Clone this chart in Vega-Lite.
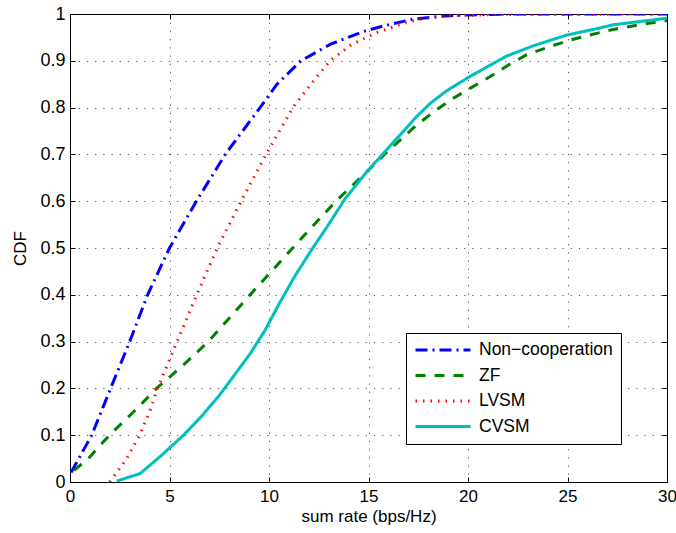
{
  "$schema": "https://vega.github.io/schema/vega-lite/v6.json",
  "width": 597,
  "height": 468,
  "autosize": "none",
  "padding": {"left": 70, "top": 14, "right": 9, "bottom": 51},
  "background": "white",
  "config": {
    "view": {"stroke": "black", "strokeWidth": 1},
    "font": "Liberation Sans",
    "axis": {
      "domain": true,
      "domainColor": "black",
      "grid": true,
      "gridColor": "#444",
      "gridDash": [1.2, 7],
      "gridWidth": 1,
      "gridOpacity": 0.9,
      "tickColor": "black",
      "tickSize": -5,
      "labelFontSize": 18,
      "labelColor": "black",
      "labelFont": "Liberation Sans",
      "titleFont": "Liberation Sans",
      "titleFontSize": 17,
      "titleFontWeight": "normal",
      "titleColor": "black"
    }
  },
  "datasets": {
    "d": [
      {"s": "Non−cooperation", "x": 0.05, "y": 0.02},
      {"s": "Non−cooperation", "x": 1.09, "y": 0.1},
      {"s": "Non−cooperation", "x": 2.04, "y": 0.2},
      {"s": "Non−cooperation", "x": 3.0, "y": 0.3},
      {"s": "Non−cooperation", "x": 3.9, "y": 0.4},
      {"s": "Non−cooperation", "x": 5.0, "y": 0.5},
      {"s": "Non−cooperation", "x": 6.35, "y": 0.6},
      {"s": "Non−cooperation", "x": 7.8, "y": 0.7},
      {"s": "Non−cooperation", "x": 9.55, "y": 0.8},
      {"s": "Non−cooperation", "x": 10.4, "y": 0.85},
      {"s": "Non−cooperation", "x": 11.6, "y": 0.9},
      {"s": "Non−cooperation", "x": 13.07, "y": 0.935},
      {"s": "Non−cooperation", "x": 14.7, "y": 0.962},
      {"s": "Non−cooperation", "x": 15.7, "y": 0.974},
      {"s": "Non−cooperation", "x": 17.25, "y": 0.989},
      {"s": "Non−cooperation", "x": 18.6, "y": 0.995},
      {"s": "Non−cooperation", "x": 19.9, "y": 0.998},
      {"s": "Non−cooperation", "x": 22, "y": 1},
      {"s": "Non−cooperation", "x": 30, "y": 1},
      {"s": "ZF", "x": 0.2, "y": 0.025},
      {"s": "ZF", "x": 0.92, "y": 0.05},
      {"s": "ZF", "x": 1.98, "y": 0.1},
      {"s": "ZF", "x": 3.2, "y": 0.15},
      {"s": "ZF", "x": 4.35, "y": 0.2},
      {"s": "ZF", "x": 5.7, "y": 0.25},
      {"s": "ZF", "x": 6.95, "y": 0.3},
      {"s": "ZF", "x": 9.05, "y": 0.4},
      {"s": "ZF", "x": 10.55, "y": 0.47},
      {"s": "ZF", "x": 11.98, "y": 0.537},
      {"s": "ZF", "x": 13.48, "y": 0.605},
      {"s": "ZF", "x": 14.9, "y": 0.662},
      {"s": "ZF", "x": 15.8, "y": 0.7},
      {"s": "ZF", "x": 17.42, "y": 0.763},
      {"s": "ZF", "x": 18.34, "y": 0.793},
      {"s": "ZF", "x": 19.26, "y": 0.82},
      {"s": "ZF", "x": 20.1, "y": 0.841},
      {"s": "ZF", "x": 21.1, "y": 0.866},
      {"s": "ZF", "x": 22.03, "y": 0.891},
      {"s": "ZF", "x": 22.95, "y": 0.913},
      {"s": "ZF", "x": 23.95, "y": 0.928},
      {"s": "ZF", "x": 25.1, "y": 0.944},
      {"s": "ZF", "x": 26.1, "y": 0.955},
      {"s": "ZF", "x": 27.3, "y": 0.967},
      {"s": "ZF", "x": 28.6, "y": 0.977},
      {"s": "ZF", "x": 30, "y": 0.986},
      {"s": "LVSM", "x": 2.0, "y": 0},
      {"s": "LVSM", "x": 2.85, "y": 0.05},
      {"s": "LVSM", "x": 3.5, "y": 0.1},
      {"s": "LVSM", "x": 4.0, "y": 0.15},
      {"s": "LVSM", "x": 4.4, "y": 0.2},
      {"s": "LVSM", "x": 5.38, "y": 0.3},
      {"s": "LVSM", "x": 6.37, "y": 0.4},
      {"s": "LVSM", "x": 7.4, "y": 0.5},
      {"s": "LVSM", "x": 8.6, "y": 0.6},
      {"s": "LVSM", "x": 9.85, "y": 0.7},
      {"s": "LVSM", "x": 11.2, "y": 0.8},
      {"s": "LVSM", "x": 12.1, "y": 0.85},
      {"s": "LVSM", "x": 13.07, "y": 0.9},
      {"s": "LVSM", "x": 14.15, "y": 0.935},
      {"s": "LVSM", "x": 15.4, "y": 0.96},
      {"s": "LVSM", "x": 16.7, "y": 0.979},
      {"s": "LVSM", "x": 17.6, "y": 0.989},
      {"s": "LVSM", "x": 18.9, "y": 0.996},
      {"s": "LVSM", "x": 21.5, "y": 0.999},
      {"s": "LVSM", "x": 30, "y": 1},
      {"s": "CVSM", "x": 2.35, "y": 0.002},
      {"s": "CVSM", "x": 3.52, "y": 0.018},
      {"s": "CVSM", "x": 4.52, "y": 0.054},
      {"s": "CVSM", "x": 5.7, "y": 0.1},
      {"s": "CVSM", "x": 6.6, "y": 0.14},
      {"s": "CVSM", "x": 7.5, "y": 0.185},
      {"s": "CVSM", "x": 8.2, "y": 0.225},
      {"s": "CVSM", "x": 9.05, "y": 0.274},
      {"s": "CVSM", "x": 9.8, "y": 0.324},
      {"s": "CVSM", "x": 10.5, "y": 0.38},
      {"s": "CVSM", "x": 11.3, "y": 0.44},
      {"s": "CVSM", "x": 12.2, "y": 0.5},
      {"s": "CVSM", "x": 12.9, "y": 0.544},
      {"s": "CVSM", "x": 13.82, "y": 0.605},
      {"s": "CVSM", "x": 14.9, "y": 0.662},
      {"s": "CVSM", "x": 15.7, "y": 0.7},
      {"s": "CVSM", "x": 16.7, "y": 0.747},
      {"s": "CVSM", "x": 17.4, "y": 0.78},
      {"s": "CVSM", "x": 18.1, "y": 0.809},
      {"s": "CVSM", "x": 18.93, "y": 0.836},
      {"s": "CVSM", "x": 20.0, "y": 0.864},
      {"s": "CVSM", "x": 21.0, "y": 0.888},
      {"s": "CVSM", "x": 21.94, "y": 0.91},
      {"s": "CVSM", "x": 23.28, "y": 0.932},
      {"s": "CVSM", "x": 24.96, "y": 0.955},
      {"s": "CVSM", "x": 26.3, "y": 0.967},
      {"s": "CVSM", "x": 27.3, "y": 0.977},
      {"s": "CVSM", "x": 30, "y": 0.991}
    ]
  },
  "data": {"name": "d"},
  "layer": [
    {
      "mark": {"type": "line", "clip": true},
      "encoding": {
        "x": {
          "field": "x", "type": "quantitative",
          "scale": {"domain": [0, 30], "nice": false, "zero": false},
          "axis": {"values": [0, 5, 10, 15, 20, 25, 30], "format": "~g", "title": "sum rate (bps/Hz)", "labelFontSize": 17, "labelPadding": 11, "titlePadding": 4, "labelFlush": false}
        },
        "y": {
          "field": "y", "type": "quantitative",
          "scale": {"domain": [0, 1], "nice": false, "zero": false},
          "axis": {"values": [0, 0.1, 0.2, 0.3, 0.4, 0.5, 0.6, 0.7, 0.8, 0.9, 1], "format": "~g", "title": "CDF", "labelPadding": 10, "titlePadding": 10, "labelFlush": false}
        },
        "color": {
          "field": "s", "type": "nominal",
          "scale": {"domain": ["Non−cooperation", "ZF", "LVSM", "CVSM"], "range": ["#0000FF", "#008000", "#FF0000", "#00BFBF"]},
          "legend": {
            "title": null,
            "orient": "none",
            "legendX": 336,
            "legendY": 319,
            "symbolType": "stroke",
            "symbolSize": 3025,
            "clipHeight": 18,
            "labelFontSize": 17.5,
            "labelFont": "Liberation Sans",
            "labelColor": "black",
            "labelOffset": 7,
            "rowPadding": 7.5,
            "padding": 8,
            "strokeColor": "black",
            "fillColor": "white",
            "cornerRadius": 0,
            "labelLimit": 300
          }
        },
        "strokeDash": {
          "field": "s", "type": "nominal",
          "scale": {"domain": ["Non−cooperation", "ZF", "LVSM", "CVSM"], "range": [[12, 5, 2, 5], [10, 9], [1.5, 6], [1, 0]]}
        },
        "strokeWidth": {
          "field": "s", "type": "nominal",
          "scale": {"domain": ["Non−cooperation", "ZF", "LVSM", "CVSM"], "range": [3, 3, 1.2, 3]}
        }
      }
    },
    {
      "mark": {"type": "point", "opacity": 0},
      "encoding": {
        "x": {
          "field": "x", "type": "quantitative",
          "scale": {"domain": [0, 30], "nice": false, "zero": false},
          "axis": {"orient": "top", "values": [0, 5, 10, 15, 20, 25, 30], "labels": false, "grid": false, "title": null}
        },
        "y": {
          "field": "y", "type": "quantitative",
          "scale": {"domain": [0, 1], "nice": false, "zero": false},
          "axis": {"orient": "right", "values": [0, 0.1, 0.2, 0.3, 0.4, 0.5, 0.6, 0.7, 0.8, 0.9, 1], "labels": false, "grid": false, "title": null}
        }
      }
    }
  ],
  "resolve": {"axis": {"x": "independent", "y": "independent"}}
}
